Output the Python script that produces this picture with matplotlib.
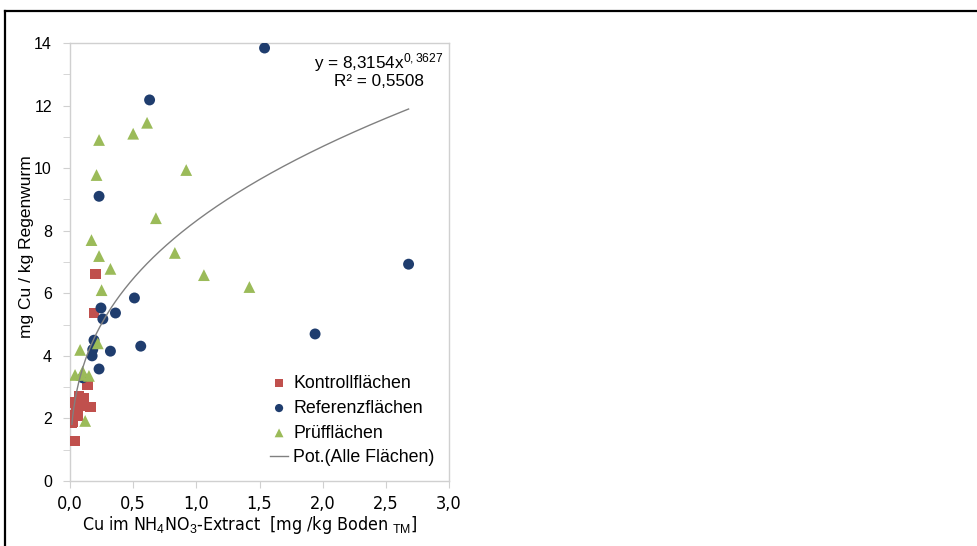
import numpy as np
import matplotlib
matplotlib.use("Agg")
import matplotlib.pyplot as plt
from matplotlib.lines import Line2D
from matplotlib import font_manager
from matplotlib.font_manager import FontProperties

# ---------------- data ----------------
kontroll_x = [0.20, 0.19, 0.14, 0.11, 0.07, 0.04, 0.05, 0.09, 0.16, 0.03, 0.02, 0.01, 0.04, 0.06, 0.08]
kontroll_y = [6.62, 5.37, 3.07, 2.65, 2.70, 2.50, 2.30, 2.40, 2.36, 2.10, 1.90, 1.85, 1.28, 2.10, 2.65]

referenz_x = [1.54, 0.63, 0.23, 2.68, 1.94, 0.51, 0.245, 0.36, 0.26, 0.56, 0.32, 0.19, 0.18, 0.175, 0.23, 0.10]
referenz_y = [13.84, 12.18, 9.10, 6.93, 4.70, 5.85, 5.53, 5.37, 5.18, 4.31, 4.15, 4.50, 4.20, 4.00, 3.58, 3.30]

pruef_x = [0.23, 0.50, 0.61, 0.21, 0.92, 0.68, 0.17, 0.23, 0.32, 0.83, 1.06, 1.42, 0.25,
           0.22, 0.08, 0.04, 0.09, 0.15, 0.12, 0.10]
pruef_y = [10.90, 11.10, 11.45, 9.78, 9.94, 8.40, 7.70, 7.19, 6.78, 7.29, 6.58, 6.20, 6.10,
           4.40, 4.19, 3.39, 3.39, 3.36, 1.92, 3.50]

fit_a = 8.3154
fit_b = 0.3627
fit_xmin = 0.015
fit_xmax = 2.68

x_ticks = [0.0, 0.5, 1.0, 1.5, 2.0, 2.5, 3.0]
x_ticklabels = ["0,0", "0,5", "1,0", "1,5", "2,0", "2,5", "3,0"]
y_ticks = [0, 2, 4, 6, 8, 10, 12, 14]

# ---------------- fonts ----------------
avail = {f.name for f in font_manager.fontManager.ttflist}
base = "Liberation Sans" if "Liberation Sans" in avail else "DejaVu Sans"

narrow_path = None
for f in font_manager.fontManager.ttflist:
    if f.name == "Liberation Sans Narrow" and f.weight in (400, "normal", "regular") and f.style == "normal":
        narrow_path = f.fname
        break
if narrow_path is None:
    for f in font_manager.fontManager.ttflist:
        if f.name == "DejaVu Sans" and str(f.stretch) in ("condensed", "semi-condensed") \
                and f.style == "normal" and f.weight in (400, "normal", "regular"):
            narrow_path = f.fname
            break

def narrow_prop(size):
    if narrow_path:
        return FontProperties(fname=narrow_path, size=size)
    return FontProperties(family=base, size=size)

plt.rcParams["font.family"] = [base, "DejaVu Sans"]
plt.rcParams["mathtext.fontset"] = "custom"
plt.rcParams["mathtext.rm"] = base
plt.rcParams["mathtext.it"] = base

W, H = 978, 546
fig = plt.figure(figsize=(W / 100, H / 100), dpi=100)
fig.patch.set_facecolor("white")

left_px, right_px, top_px, bottom_px = 70, 449, 43, 481
ax = fig.add_axes([left_px / W, 1 - bottom_px / H, (right_px - left_px) / W, (bottom_px - top_px) / H])

red = "#C0504D"
blue = "#1F3D6E"
green = "#9BBB59"

ax.scatter(kontroll_x, kontroll_y, marker="s", s=58, color=red, edgecolors="none", zorder=3,
           label="Kontrollflächen")
ax.scatter(referenz_x, referenz_y, marker="o", s=62, color=blue, edgecolors="none", zorder=3,
           label="Referenzflächen")
ax.scatter(pruef_x, pruef_y, marker="^", s=72, color=green, edgecolors="none", zorder=3,
           label="Prüfflächen")
xf = np.linspace(fit_xmin, fit_xmax, 400)
ax.plot(xf, fit_a * xf ** fit_b, color="#808080", lw=1.0, zorder=4, label="Pot.(Alle Flächen)")

ax.set_xlim(0, 3.0)
ax.set_ylim(0, 14)
ax.set_xticks(x_ticks)
ax.set_xticklabels(x_ticklabels, fontproperties=narrow_prop(13))
ax.set_yticks(y_ticks)
ax.set_yticks(np.arange(1, 14, 2), minor=True)
ax.tick_params(axis="y", which="both", direction="out", length=5, color="#d0d0d0", labelsize=11.5,
               labelcolor="#000000", pad=8)
ax.tick_params(axis="x", which="both", direction="out", length=5, color="#d0d0d0", pad=5)
for sp in ax.spines.values():
    sp.set_color("#d0d0d0")
    sp.set_linewidth(1.0)

ax.set_xlabel("Cu im NH$_4$NO$_3$-Extract  [mg /kg Boden $_{TM}$]", fontproperties=narrow_prop(12.8))
ax.xaxis.label.set_va("center")
ax.xaxis.set_label_coords(0.474, -0.100)
ax.set_ylabel("mg Cu / kg Regenwurm", fontsize=12.5)
ax.yaxis.set_label_coords(-0.095, 0.535)

ax.text(0.985, 0.955, "y = 8,3154x$^{0,3627}$", transform=ax.transAxes, ha="right", va="center",
        fontsize=12.3)
ax.text(0.935, 0.913, "R² = 0,5508", transform=ax.transAxes, ha="right", va="center", fontsize=12.3)

leg = ax.legend(loc="lower right", bbox_to_anchor=(0.995, 0.005), frameon=False, fontsize=12.8,
                handlelength=1.0, handletextpad=0.3, labelspacing=0.44, borderaxespad=0.3,
                markerscale=0.75)

# outer frame (top and left)
fig.add_artist(Line2D([4.5 / W, 4.5 / W], [0, 1 - 11 / H], transform=fig.transFigure, color="black", lw=1.6))
fig.add_artist(Line2D([4.5 / W, 977 / W], [1 - 11 / H, 1 - 11 / H], transform=fig.transFigure, color="black", lw=1.6))

fig.savefig("out.png", dpi=100, facecolor="white")
